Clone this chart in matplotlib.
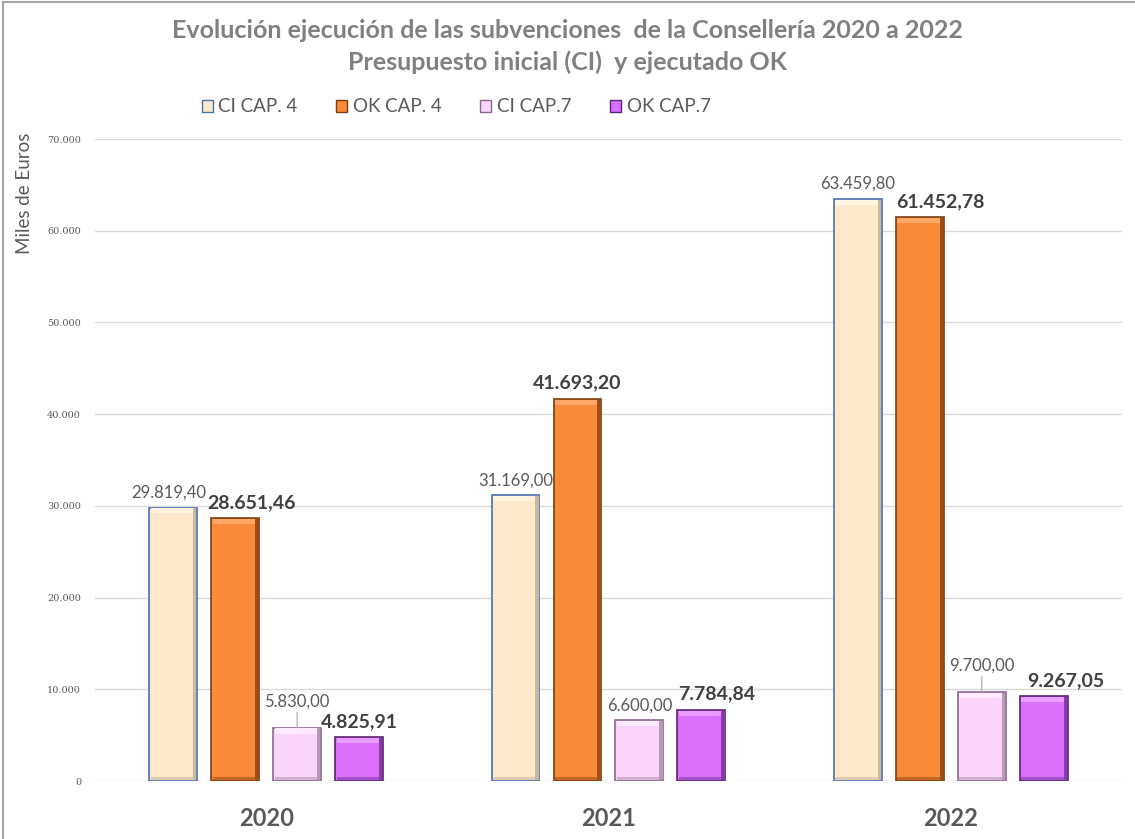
import numpy as np
import matplotlib
matplotlib.use("Agg")
import matplotlib.pyplot as plt
from matplotlib.patches import Rectangle
from matplotlib.lines import Line2D

# data
years = ["2020", "2021", "2022"]
series = ["CI CAP. 4", "OK CAP. 4", "CI CAP.7", "OK CAP.7"]
ci_cap4 = [29819.40, 31169.00, 63459.80]
ok_cap4 = [28651.46, 41693.20, 61452.78]
ci_cap7 = [5830.00, 6600.00, 9700.00]
ok_cap7 = [4825.91, 7784.84, 9267.05]
yticks = [0, 10000, 20000, 30000, 40000, 50000, 60000, 70000]


def fmt_es(v, dec=2):
    s = f"{v:,.{dec}f}"
    return s.replace(",", "X").replace(".", ",").replace("X", ".")


plt.rcParams["font.family"] = ["Lato", "DejaVu Sans"]

fills = ["#FDE9C9", "#F98A3A", "#FAD4FB", "#DA70FB"]
edges = ["#4A6FB5", "#7A3E12", "#8A6A8C", "#5A2470"]
tops = ["#FFF4E2", "#FFA766", "#FFEAFF", "#EA9CFF"]
sides = ["#C9B99E", "#9E4E16", "#B79AB8", "#8A3AAB"]

# horizontal nudge of value labels (points), per series and year
nudge = [[-3, 0, 0], [12, 0, 15], [0, 0, 0], [0, 11, 16]]

fig = plt.figure(figsize=(11.35, 8.39), dpi=100)
ax = fig.add_axes([0.0837, 0.0691, 0.9048, 0.7652])

x = np.arange(len(years))
w = 0.14
step = 0.181
data = [ci_cap4, ok_cap4, ci_cap7, ok_cap7]

for i, vals in enumerate(data):
    pos = x + (i - 1.5) * step
    vals = np.array(vals)
    ax.bar(pos, vals, w, color=fills[i], edgecolor=edges[i], linewidth=1.2, zorder=3)
    # bevel look: light strip on top, darker strips right and bottom
    ax.bar(pos, np.full(3, 550.0), w * 0.94, bottom=vals - 650, color=tops[i],
           linewidth=0, zorder=4)
    ax.bar(pos + w * 0.45, vals - 250, w * 0.07, bottom=150, color=sides[i],
           linewidth=0, zorder=4)
    ax.bar(pos, np.full(3, 350.0), w * 0.94, bottom=100, color=sides[i],
           linewidth=0, zorder=4, alpha=0.6)

    for j, v in enumerate(vals):
        dx = nudge[i][j]
        if i in (1, 3):
            ax.annotate(fmt_es(v), (pos[j], v), xytext=(dx, 5), textcoords="offset points",
                        ha="center", va="bottom", fontsize=14, fontweight="bold",
                        color="#404040", zorder=6)
        elif i == 2 and j != 1:
            ax.annotate(fmt_es(v), (pos[j], v), xytext=(dx, 13), textcoords="offset points",
                        ha="center", va="bottom", fontsize=12, color="#595959",
                        arrowprops=dict(arrowstyle="-", color="#A6A6A6", lw=0.8,
                                        shrinkA=0, shrinkB=0), zorder=6)
        else:
            ax.annotate(fmt_es(v), (pos[j], v), xytext=(dx, 5), textcoords="offset points",
                        ha="center", va="bottom", fontsize=12, color="#595959", zorder=6)

ax.set_xlim(-0.5, 2.5)
ax.set_ylim(0, 70000)
ax.set_yticks(yticks)
ax.set_yticklabels([fmt_es(t, 0) if t else "0" for t in yticks], fontsize=7,
                   color="#595959", family="DejaVu Serif")
ax.set_xticks(x)
ax.set_xticklabels(years, fontsize=17, fontweight="bold", color="#595959")
ax.tick_params(axis="both", length=0)
ax.tick_params(axis="y", pad=10)
ax.tick_params(axis="x", pad=19)
ax.grid(axis="y", color="#D9D9D9", linewidth=1, zorder=0)
for s in ax.spines.values():
    s.set_visible(False)
ax.set_ylabel("Miles de Euros", fontsize=13.5, color="#595959")
ax.yaxis.set_label_coords(-0.06, 0.915)

fig.text(0.5, 1 - 30 / 839, "Evolución ejecución de las subvenciones  de la Consellería 2020 a 2022",
         ha="center", va="center", fontsize=18, fontweight="bold", color="#808080")
fig.text(0.5, 1 - 62 / 839, "Presupuesto inicial (CI)  y ejecutado OK",
         ha="center", va="center", fontsize=18, fontweight="bold", color="#808080")

handles = [Rectangle((0, 0), 1, 1, facecolor=fills[i], edgecolor=edges[i], linewidth=1)
           for i in range(4)]
fig.legend(handles, series, loc="center", bbox_to_anchor=(0.402, 1 - 107 / 839), ncol=4,
           frameon=False, fontsize=13.5, labelcolor="#595959", handlelength=0.6,
           handleheight=0.6, handletextpad=0.3, columnspacing=2.05)

# outer border
fig.add_artist(Line2D([0.003, 0.003], [0, 0.998], transform=fig.transFigure,
                      color="#A6A6A6", lw=1.5))
fig.add_artist(Line2D([0.003, 1], [0.998, 0.998], transform=fig.transFigure,
                      color="#A6A6A6", lw=1.5))

fig.savefig("out.png", dpi=100)
